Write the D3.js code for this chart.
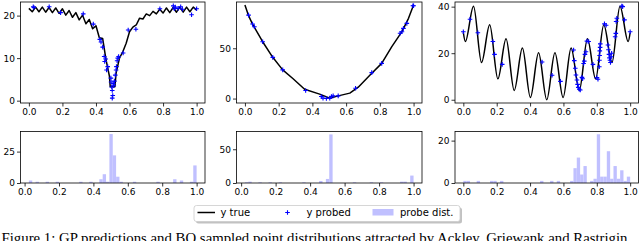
<!DOCTYPE html>
<html>
<head>
<meta charset="utf-8">
<script src="https://cdn.jsdelivr.net/npm/d3@7"></script>
<style>
  body { margin: 0; background: #fff; }
  svg { display: block; }
  text { font-family: "DejaVu Sans", sans-serif; fill: #000; }
</style>
</head>
<body>
<script>
// ---- data ----
const ackleyX = [0, 0.02, 0.04, 0.06, 0.08, 0.10, 0.12, 0.14, 0.16, 0.18, 0.20, 0.22, 0.24, 0.26, 0.28, 0.30, 0.32, 0.34, 0.36, 0.38, 0.40, 0.42, 0.44, 0.46, 0.48, 0.485, 0.513, 0.52, 0.54, 0.56, 0.58, 0.60, 0.62, 0.64, 0.66, 0.68, 0.70, 0.72, 0.74, 0.76, 0.78, 0.80, 0.82, 0.84, 0.86, 0.88, 0.90, 0.92, 0.94, 0.96, 0.98, 1.0];
const ackleyY = [21.7, 20.9, 22.0, 20.9, 22.0, 20.8, 21.9, 20.7, 21.8, 20.5, 21.6, 20.1, 21.2, 19.6, 20.7, 19.0, 20.1, 18.1, 19.1, 16.9, 17.6, 14.8, 14.6, 9.6, 5.8, 3.3, 3.3, 6.5, 10.0, 11.5, 13.5, 16.2, 17.3, 17.8, 19.4, 19.2, 20.4, 20.0, 21.0, 20.4, 21.5, 20.6, 21.8, 20.7, 21.9, 20.8, 22.0, 20.8, 22.0, 20.9, 22.0, 21.3];
const ackleyProbes = [[0.026, 22.1], [0.03, 21.9], [0.121, 22.1], [0.189, 20.7], [0.324, 20.4], [0.384, 18.0], [0.423, 14.4], [0.43, 13.8], [0.44, 12.6], [0.449, 10.4], [0.452, 9.2], [0.458, 9.8], [0.463, 7.2], [0.47, 8.0], [0.489, 5.3], [0.49, 4.4], [0.494, 3.2], [0.497, 2.4], [0.497, 0.6], [0.5, 1.2], [0.503, 4.0], [0.506, 3.5], [0.51, 4.6], [0.515, 6.0], [0.52, 7.2], [0.522, 8.0], [0.526, 9.4], [0.53, 10.0], [0.535, 10.4], [0.562, 11.2], [0.592, 16.6], [0.638, 16.8], [0.781, 21.6], [0.861, 22.3], [0.867, 21.6], [0.873, 22.0], [0.89, 21.7], [0.905, 22.1], [0.915, 21.5], [0.97, 20.2], [1.0, 21.6]];
const ackleyHistRange = [0.025, 1.0];
const ackleyCounts = [2, 0, 1, 0, 0, 1, 0, 0, 1, 0,
                      0, 0, 0, 0, 0, 1, 0, 0, 1, 0,
                      0, 3, 7, 1, 39, 22, 5, 1, 0, 0,
                      0, 1, 0, 0, 0, 0, 0, 0, 1, 0,
                      0, 0, 0, 3, 0, 2, 0, 0, 1, 14];

const griewankX = [0, 0.02, 0.045, 0.105, 0.165, 0.224, 0.284, 0.354, 0.443, 0.503, 0.553, 0.622, 0.672, 0.742, 0.811, 0.871, 0.931, 0.97, 1.0];
const griewankY = [93, 83, 74, 56.5, 41, 28.5, 20, 9.3, 4.4, 0.4, 2.7, 5.4, 11.3, 23.5, 35, 51.6, 66.5, 79.8, 93];
const griewankProbes = [[0.0215, 83.0], [0.045, 74.1], [0.056, 71.4], [0.105, 56.5], [0.165, 41.0], [0.224, 28.5], [0.36, 8.0], [0.453, 2.0], [0.463, 0.4], [0.483, 0.0], [0.503, 0.4], [0.513, 2.0], [0.523, 2.7], [0.553, 2.7], [0.656, 10.3], [0.752, 25.8], [0.811, 35.0], [0.92, 64.9], [0.931, 66.5], [0.94, 69.8], [0.96, 74.8], [0.996, 92.3], [1.0, 92.3]];
const griewankHistRange = [0.022, 1.0];
const griewankCounts = [1, 2, 0, 0, 1, 0, 0, 1, 0, 0,
                        1, 0, 0, 0, 0, 0, 0, 1, 0, 0,
                        0, 0, 3, 0, 6, 72, 0, 0, 0, 0,
                        0, 0, 1, 0, 0, 0, 0, 1, 0, 0,
                        1, 0, 0, 0, 0, 0, 2, 2, 0, 11];

const rastriginX = [0, 0.012, 0.061, 0.109, 0.158, 0.207, 0.256, 0.305, 0.354, 0.402, 0.451, 0.5, 0.549, 0.598, 0.646, 0.695, 0.744, 0.793, 0.842, 0.891, 0.939, 0.988, 1.0];
const rastriginY = [28.9, 25.0, 40.2, 16.0, 32.2, 9.0, 26.2, 4.0, 22.2, 1.0, 20.2, 0.0, 20.2, 1.0, 22.2, 4.0, 26.2, 9.0, 32.2, 16.0, 40.2, 25.0, 28.9];
const rastriginProbes = [[0, 29.2], [0.04, 34.6], [0.087, 28.8], [0.177, 25], [0.187, 19.5], [0.233, 15.2], [0.472, 16.2], [0.532, 10.5], [0.582, 7.9], [0.661, 21.4], [0.665, 16.8], [0.671, 13.5], [0.675, 10.6], [0.681, 8.5], [0.685, 6.6], [0.689, 5.3], [0.695, 4.5], [0.701, 4.2], [0.711, 9.6], [0.715, 9.0], [0.721, 15.6], [0.725, 16.6], [0.729, 19.5], [0.735, 20.6], [0.741, 25.2], [0.751, 25.0], [0.777, 15.2], [0.801, 9.5], [0.807, 8.8], [0.815, 14.2], [0.816, 17], [0.817, 19], [0.818, 21], [0.82, 22.5], [0.821, 24], [0.846, 32.6], [0.856, 32], [0.867, 23.5], [0.87, 21.5], [0.873, 19.5], [0.876, 18], [0.879, 17], [0.882, 16], [0.886, 18.5], [0.889, 20], [0.91, 27.1], [0.914, 28.5], [0.916, 33.6], [0.92, 35], [0.95, 40.3], [0.955, 40], [0.966, 34.3], [1.0, 29.2]];
const rastriginHistRange = [0.0, 1.0];
const rastriginCounts = [1, 1, 0, 0, 1, 0, 0, 0, 1, 1,
                         0, 1, 0, 0, 0, 0, 0, 0, 0, 0,
                         0, 0, 0, 1, 0, 0, 1, 0, 1, 0,
                         0, 0, 1, 7, 12, 4, 8, 0, 1, 2,
                         23, 3, 3, 15, 2, 8, 2, 6, 1, 3];

const xTicks = [0, 0.2, 0.4, 0.6, 0.8, 1.0];
const ackleyYTicks = [0, 10, 20];
const griewankYTicks = [0, 50];
const rastriginYTicks = [0, 20, 40];
const ackleyHistTicks = [0, 25];
const griewankHistTicks = [0, 50];
const rastriginHistTicks = [0, 20];
const legendLabels = ['y true', 'y probed', 'probe dist.'];
const caption = 'Figure 1: GP predictions and BO sampled point distributions attracted by Ackley, Griewank and Rastrigin';

// ---- layout ----
const w = 640, h = 241;
const cols = [[20.5, 205], [236.5, 422], [455, 638.5]];
const topRow = [2, 103];
const botRow = [131.5, 183];
const histColor = '#c0c0ff';

const panels = [
  { x: ackleyX, y: ackleyY, probes: ackleyProbes, yDomain: [-0.55, 23.2], yTicks: ackleyYTicks, curve: d3.curveLinear,
    range: ackleyHistRange, counts: ackleyCounts, hMax: 41, hTicks: ackleyHistTicks },
  { x: griewankX, y: griewankY, probes: griewankProbes, yDomain: [-4.4, 96], yTicks: griewankYTicks, curve: d3.curveLinear,
    range: griewankHistRange, counts: griewankCounts, hMax: 76.3, hTicks: griewankHistTicks },
  { x: rastriginX, y: rastriginY, probes: rastriginProbes, yDomain: [-1.4, 42], yTicks: rastriginYTicks, curve: d3.curveMonotoneX,
    range: rastriginHistRange, counts: rastriginCounts, hMax: 24.3, hTicks: rastriginHistTicks }
];

const svg = d3.select('body')
  .append('svg')
  .attr('width', w)
  .attr('height', h);

function styleAxis(g) {
  g.select('.domain').remove();
  g.selectAll('.tick line').attr('stroke', '#000').attr('stroke-width', 0.8);
  g.selectAll('.tick text').attr('font-size', 9).attr('fill', '#000');
}

function drawAxes(xScale, yScale, yTicks, xr, yr) {
  svg.append('g')
    .attr('transform', 'translate(0,' + yr[1] + ')')
    .call(d3.axisBottom(xScale).tickValues(xTicks).tickFormat(d3.format('.1f'))
      .tickSize(3.5).tickPadding(2).tickSizeOuter(0))
    .call(styleAxis);
  svg.append('g')
    .attr('transform', 'translate(' + xr[0] + ',0)')
    .call(d3.axisLeft(yScale).tickValues(yTicks).tickFormat(d3.format('d'))
      .tickSize(3.5).tickPadding(2).tickSizeOuter(0))
    .call(styleAxis);
  svg.append('rect')
    .attr('x', xr[0]).attr('y', yr[0])
    .attr('width', xr[1] - xr[0]).attr('height', yr[1] - yr[0])
    .attr('fill', 'none').attr('stroke', '#000').attr('stroke-width', 0.8);
}

const plus = 'M-2.3,0H2.3M0,-2.3V2.3';

panels.forEach((p, k) => {
  const xr = cols[k];

  // top: true function + probed points
  const xScale = d3.scaleLinear().domain([-0.05, 1.05]).range(xr);
  const yScale = d3.scaleLinear().domain(p.yDomain).range([topRow[1], topRow[0]]);

  const line = d3.line()
    .x((d, i) => xScale(p.x[i]))
    .y(d => yScale(d))
    .curve(p.curve);

  svg.append('path')
    .datum(p.y)
    .attr('d', line)
    .attr('fill', 'none')
    .attr('stroke', '#000')
    .attr('stroke-width', 1.5)
    .attr('stroke-linejoin', 'round');

  svg.append('g').selectAll('path')
    .data(p.probes)
    .enter()
    .append('path')
    .attr('d', plus)
    .attr('transform', d => 'translate(' + xScale(d[0]) + ',' + yScale(d[1]) + ')')
    .attr('stroke', '#0000ff')
    .attr('stroke-width', 1.1)
    .attr('fill', 'none');

  drawAxes(xScale, yScale, p.yTicks, xr, topRow);

  // bottom: histogram of probe locations
  const lo = p.range[0], hi = p.range[1];
  const span = hi - lo;
  const binW = span / p.counts.length;
  const hx = d3.scaleLinear().domain([lo - 0.05 * span, hi + 0.05 * span]).range(xr);
  const hy = d3.scaleLinear().domain([0, p.hMax]).range([botRow[1], botRow[0]]);

  svg.append('g').selectAll('rect')
    .data(p.counts.map((c, i) => ({ x0: lo + i * binW, x1: lo + (i + 1) * binW, c: c })).filter(d => d.c > 0))
    .enter()
    .append('rect')
    .attr('x', d => hx(d.x0))
    .attr('width', d => hx(d.x1) - hx(d.x0))
    .attr('y', d => hy(d.c))
    .attr('height', d => hy(0) - hy(d.c))
    .attr('fill', histColor);

  drawAxes(hx, hy, p.hTicks, xr, botRow);
});

// legend
const lg = svg.append('g');
lg.append('rect')
  .attr('x', 196).attr('y', 207.5).attr('width', 266).attr('height', 16).attr('rx', 2.5)
  .attr('fill', '#9a9a9a').attr('opacity', 0.6);
lg.append('rect')
  .attr('x', 194).attr('y', 205.5).attr('width', 266).attr('height', 16).attr('rx', 2.5)
  .attr('fill', '#fff').attr('stroke', '#cccccc').attr('stroke-width', 0.8);
lg.append('line')
  .attr('x1', 197.5).attr('x2', 215).attr('y1', 212.5).attr('y2', 212.5)
  .attr('stroke', '#000').attr('stroke-width', 1.5);
lg.append('path')
  .attr('d', plus)
  .attr('transform', 'translate(287.5,212.5)')
  .attr('stroke', '#0000ff').attr('stroke-width', 1.1);
lg.append('rect')
  .attr('x', 372.5).attr('y', 209).attr('width', 21).attr('height', 6.5)
  .attr('fill', histColor);
const legendX = [220.5, 306.5, 400];
lg.selectAll('text.lab')
  .data(legendLabels)
  .enter()
  .append('text')
  .attr('class', 'lab')
  .attr('x', (d, i) => legendX[i])
  .attr('y', 216.3)
  .attr('font-size', 10)
  .text(d => d);

// caption (cut off at the bottom edge, as in the source)
svg.append('text')
  .attr('x', 1.5)
  .attr('y', 243)
  .attr('font-size', 14.8)
  .style('font-family', '"Liberation Serif", "Times New Roman", serif')
  .text(caption);
</script>
</body>
</html>
